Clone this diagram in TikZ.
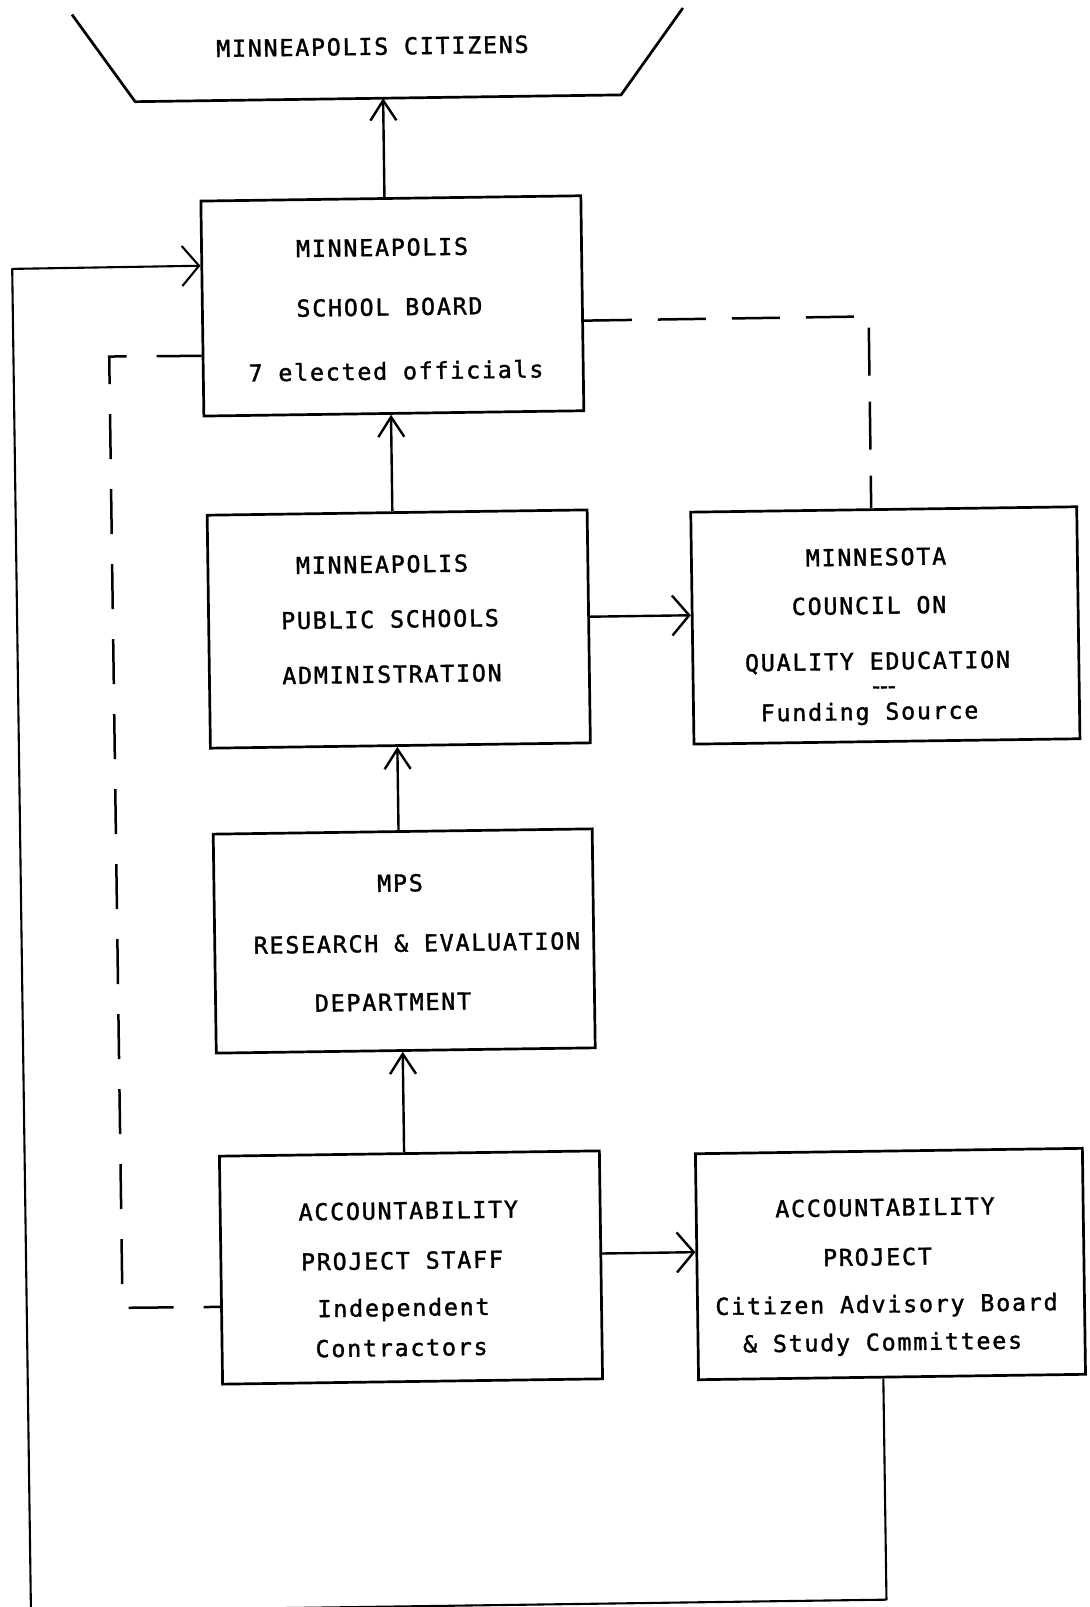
\documentclass[tikz,border=0pt]{standalone}
\usepackage{fontspec}
\newfontfamily\tw{DejaVu Sans Mono}[LetterSpace=7.6,FakeBold=1.5]
\usetikzlibrary{arrows.meta,calc}
\begin{document}
\begin{tikzpicture}[x=1pt,y=-1pt,
  box/.style={draw,line width=2.7pt,inner sep=0pt,rectangle},
  txt/.style={font=\tw\fontsize{23.3}{28}\selectfont,inner sep=0pt,text height=17pt,text depth=0pt,anchor=center},
  conn/.style={line width=2.4pt,line join=round},
  varr/.style={conn,-{Straight Barb[length=20pt,width=26pt]}},
  harr/.style={conn,-{Straight Barb[length=17pt,width=40pt]}},
  dshR/.style={line width=2.5pt,dash pattern=on 48pt off 26pt},
  dshL/.style={line width=2.5pt,dash pattern=on 45pt off 30pt}]
\useasboundingbox (0,0) rectangle (1090,1607);
\clip (0,0) rectangle (1090,1607);
\begin{scope}[rotate around={0.8:(545,803)},transform shape]
% citizens (open trapezoid)
\coordinate (tzA) at (83,8);
\coordinate (tzB) at (145,96);
\coordinate (tzC) at (631,96);
\coordinate (tzD) at (694,10);
\coordinate (citz) at (393,96);
\draw[line width=2.7pt,line join=round] (tzA) -- (tzB) -- (tzC) -- (tzD);
\node[txt] (citT) at (383,44) {MINNEAPOLIS CITIZENS};
% boxes
\node[box,minimum width=380pt,minimum height=215pt] (board) at (399.3,303.8) {};
\node[box,minimum width=380pt,minimum height=233pt] (admin) at (401.2,627) {};
\node[box,minimum width=386pt,minimum height=232pt] (council) at (887.8,630.2) {};
\node[box,minimum width=379pt,minimum height=219pt] (research) at (402.3,939) {};
\node[box,minimum width=380pt,minimum height=228pt] (staff) at (404.5,1265.6) {};
\node[box,minimum width=387pt,minimum height=226pt] (advisory) at (884,1268.8) {};
% texts
\node[txt] (bdA) at (389.8,245.2) {MINNEAPOLIS};
\node[txt] (bdB) at (396.4,304.8) {SCHOOL BOARD};
\node[txt] (bdC) at (402,368.9) {7 elected officials};
\node[txt] (adA) at (385.3,562) {MINNEAPOLIS};
\node[txt] (adB) at (392.6,617) {PUBLIC SCHOOLS};
\node[txt] (adC) at (393.8,672) {ADMINISTRATION};
\node[txt] (coA) at (879.4,561.6) {MINNESOTA};
\node[txt] (coB) at (871.8,610) {COUNCIL ON};
\node[txt] (coC) at (879.5,665.7) {QUALITY EDUCATION};
\node[txt] (coD) at (885.6,690) {-\kern-6.2pt-\kern-6.2pt-};
\node[txt] (coE) at (870.8,716) {Funding Source};
\node[txt] (reA) at (398.9,881) {MPS};
\node[txt] (reB) at (415,941.2) {RESEARCH \& EVALUATION};
\node[txt] (reC) at (390.2,999.9) {DEPARTMENT};
\node[txt] (stA) at (402.6,1208.6) {ACCOUNTABILITY};
\node[txt] (stB) at (395.6,1258.5) {PROJECT STAFF};
\node[txt] (stC) at (396.5,1305.5) {Independent};
\node[txt] (stD) at (394,1345.5) {Contractors};
\node[txt] (avA) at (879.3,1212) {ACCOUNTABILITY};
\node[txt] (avB) at (871.1,1261.5) {PROJECT};
\node[txt] (avC) at (879.5,1308.8) {Citizen Advisory Board};
\node[txt] (avD) at (875,1346.7) {\& Study Committees};
% solid arrows
\draw[varr] ($(board.north west)!0.4834!(board.north east)$) -- (citz);
\draw[varr] ($(admin.north west)!0.4876!(admin.north east)$) -- ($(board.south west)!0.4926!(board.south east)$);
\draw[varr] ($(research.north west)!0.4892!(research.north east)$) -- ($(admin.south west)!0.4921!(admin.south east)$);
\draw[varr] ($(staff.north west)!0.4863!(staff.north east)$) -- ($(research.south west)!0.4921!(research.south east)$);
\draw[harr] ($(admin.north east)!0.4592!(admin.south east)$) -- ($(council.north west)!0.4453!(council.south west)$);
\draw[harr] ($(staff.north east)!0.4513!(staff.south east)$) -- ($(advisory.north west)!0.4367!(advisory.south west)$);
% dashed links
\coordinate (dR) at (875.5,321);
\draw[dshR] ($(board.north east)!0.58!(board.south east)$) -- (dR) -- ($(council.north west)!0.468!(council.north east)$);
\coordinate (dLt) at (115.5,350.5);
\coordinate (dLb) at (115.5,1302);
\draw[dshL] ($(board.north west)!0.7172!(board.south west)$) -- (dLt) -- (dLb) -- ($(staff.north west)!0.6596!(staff.south west)$);
% feedback loop
\coordinate (lpA) at (875.4,1604.5);
\coordinate (lpB) at (19.7,1604.5);
\coordinate (lpC) at (19.7,261.5);
\draw[harr,line width=2.1pt] ($(advisory.south west)!0.4778!(advisory.south east)$) -- (lpA) -- (lpB) -- (lpC) -- ($(board.north west)!0.3033!(board.south west)$);
\end{scope}
\end{tikzpicture}
\end{document}
